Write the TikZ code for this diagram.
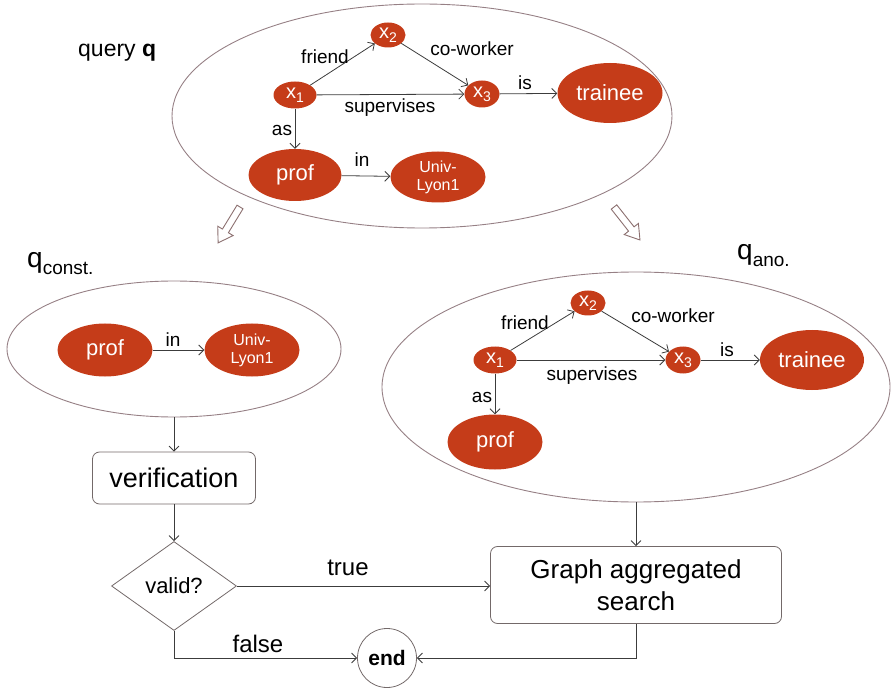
\documentclass[tikz,border=0pt]{standalone}
\usepackage{fontspec}
\setmainfont{Liberation Sans}
\usetikzlibrary{shapes.geometric,arrows.meta,calc}

\definecolor{nodered}{RGB}{197,60,25}
\definecolor{framecol}{RGB}{150,128,133}
\definecolor{linegray}{RGB}{60,60,60}
\definecolor{boxcol}{RGB}{115,105,105}
\definecolor{hollowcol}{RGB}{140,112,112}

% variable with a lowered index
\newcommand\xvar[1]{x\raisebox{-4pt}{\fontsize{14}{14}\selectfont #1}}

\begin{document}
\begin{tikzpicture}[x=1pt,y=-1pt,
  ent/.style={ellipse, fill=nodered, text=white, inner sep=0pt,
    font=\fontsize{22}{24}\selectfont},
  univ/.style={ellipse, fill=nodered, text=white, inner sep=0pt, align=center,
    minimum width=95pt, minimum height=51pt, font=\fontsize{16}{18}\selectfont},
  var/.style={ellipse, fill=nodered, text=white, inner sep=0pt,
    minimum height=27pt, font=\fontsize{20}{20}\selectfont},
  lbl/.style={inner sep=0pt, font=\fontsize{19}{20}\selectfont},
  rel/.style={draw=linegray, line width=0.8pt, -{Straight Barb[length=5pt,width=10pt]}},
  frame/.style={ellipse, draw=framecol, line width=0.9pt, inner sep=0pt},
  box/.style={draw=boxcol, line width=0.8pt, rounded corners=7pt, inner sep=0pt, align=center},
  flow/.style={draw=linegray, line width=0.8pt, -{Straight Barb[length=5pt,width=10pt]}},
  hollow/.style={draw=hollowcol, line width=0.9pt, fill=white, line join=miter},
  ]
\useasboundingbox (0,0) rectangle (891,692);

% ---------- query q ----------
\node[frame, minimum width=500pt, minimum height=224pt] (qf) at (422,116) {};
\node[anchor=base west, inner sep=0pt, font=\fontsize{23}{24}\selectfont] (qname) at (78,57) {query \textbf{q}};

\node[var, minimum width=43pt] (a1) at (295,95) {\xvar{1}};
\node[var, minimum width=35pt, minimum height=25pt] (a2) at (388,35) {\xvar{2}};
\node[var, minimum width=35pt] (a3) at (482,94) {\xvar{3}};
\node[ent, minimum width=105pt, minimum height=60pt] (atr) at (610,93) {trainee};
\node[ent, minimum width=93pt, minimum height=52pt] (apr) at (295,175) {prof};
\node[univ] (aun) at (438,177) {Univ-\\Lyon1};

\draw[rel] (a1) -- (a2);
\draw[rel] (a2) -- (a3);
\draw[rel] (a1) -- (a3);
\draw[rel] (a3) -- (atr);
\draw[rel] (a1) -- (apr);
\draw[rel] (apr) -- (aun);

\node[lbl] (al1) at (325,57) {friend};
\node[lbl] (al2) at (472,49) {co-worker};
\node[lbl] (al3) at (390,108) {supervises};
\node[lbl] (al4) at (525,83) {is};
\node[lbl] (al5) at (282,130) {as};
\node[lbl] (al6) at (362,160) {in};

% split arrows
\begin{scope}[shift={(240,207)}, rotate=-121.4]
  \draw[hollow] (0,3.5) -- (28,3.5) -- (28,9) -- (42,0) -- (28,-9) -- (28,-3.5) -- (0,-3.5) -- cycle;
\end{scope}
\begin{scope}[shift={(614,207)}, rotate=-51.8]
  \draw[hollow] (0,3.5) -- (28,3.5) -- (28,9) -- (42,0) -- (28,-9) -- (28,-3.5) -- (0,-3.5) -- cycle;
\end{scope}

% ---------- q const. ----------
\node[anchor=base west, inner sep=0pt, font=\fontsize{28}{28}\selectfont] (qcname) at (27,268)
  {q\raisebox{-7pt}{\fontsize{19}{19}\selectfont const.}};
\node[frame, minimum width=334pt, minimum height=136pt] (qc) at (174,349) {};
\node[ent, minimum width=95pt, minimum height=53pt] (cpr) at (105,350) {prof};
\node[univ, minimum height=53pt] (cun) at (252,350) {Univ-\\Lyon1};
\draw[rel] (cpr) -- (cun);
\node[lbl] (cl1) at (173,340) {in};

% ---------- q ano. ----------
\node[anchor=base west, inner sep=0pt, font=\fontsize{28}{28}\selectfont] (qaname) at (737,260)
  {q\raisebox{-7pt}{\fontsize{19}{19}\selectfont ano.}};
\node[frame, minimum width=508pt, minimum height=230pt] (qa) at (636,387) {};

\node[var, minimum width=43pt] (b1) at (495,360) {\xvar{1}};
\node[var, minimum width=35pt, minimum height=25pt] (b2) at (588,303) {\xvar{2}};
\node[var, minimum width=35pt] (b3) at (683,360) {\xvar{3}};
\node[ent, minimum width=104pt, minimum height=60pt] (btr) at (812,360) {trainee};
\node[ent, minimum width=95pt, minimum height=55pt] (bpr) at (495,442) {prof};

\draw[rel] (b1) -- (b2);
\draw[rel] (b2) -- (b3);
\draw[rel] (b1) -- (b3);
\draw[rel] (b3) -- (btr);
\draw[rel] (b1) -- (bpr);

\node[lbl] (bl1) at (525,323) {friend};
\node[lbl] (bl2) at (673,316) {co-worker};
\node[lbl] (bl3) at (592,376) {supervises};
\node[lbl] (bl4) at (727,350) {is};
\node[lbl] (bl5) at (482,397) {as};

% ---------- flow ----------
\node[box, minimum width=163pt, minimum height=52pt, font=\fontsize{27}{28}\selectfont] (verif) at (174,478) {verification};
\node[diamond, draw=boxcol, line width=0.8pt, inner sep=0pt, minimum width=125pt, minimum height=89pt,
  font=\fontsize{22}{22}\selectfont] (valid) at (174,586) {valid?};
\node[box, minimum width=291pt, minimum height=77pt, font=\fontsize{26}{32}\selectfont] (gas) at (636,585)
  {Graph aggregated\\search};
\node[circle, draw=boxcol, line width=0.8pt, inner sep=0pt, minimum size=59pt,
  font=\bfseries\fontsize{21}{21}\selectfont] (fin) at (387,658) {end};

\draw[flow] (qc.south) -- (verif.north);
\draw[flow] (verif.south) -- (valid.north);
\draw[flow] (valid.east) -- (valid.east -| gas.west);
\draw[flow] (qa.south) -- (gas.north);
\draw[flow] (valid.south) |- (fin.west);
\draw[flow] (gas.south) |- (fin.east);

\node[inner sep=0pt, font=\fontsize{24}{24}\selectfont] (ltrue) at (348,568) {true};
\node[inner sep=0pt, font=\fontsize{24}{24}\selectfont] (lfalse) at (258,644) {false};
\end{tikzpicture}
\end{document}
